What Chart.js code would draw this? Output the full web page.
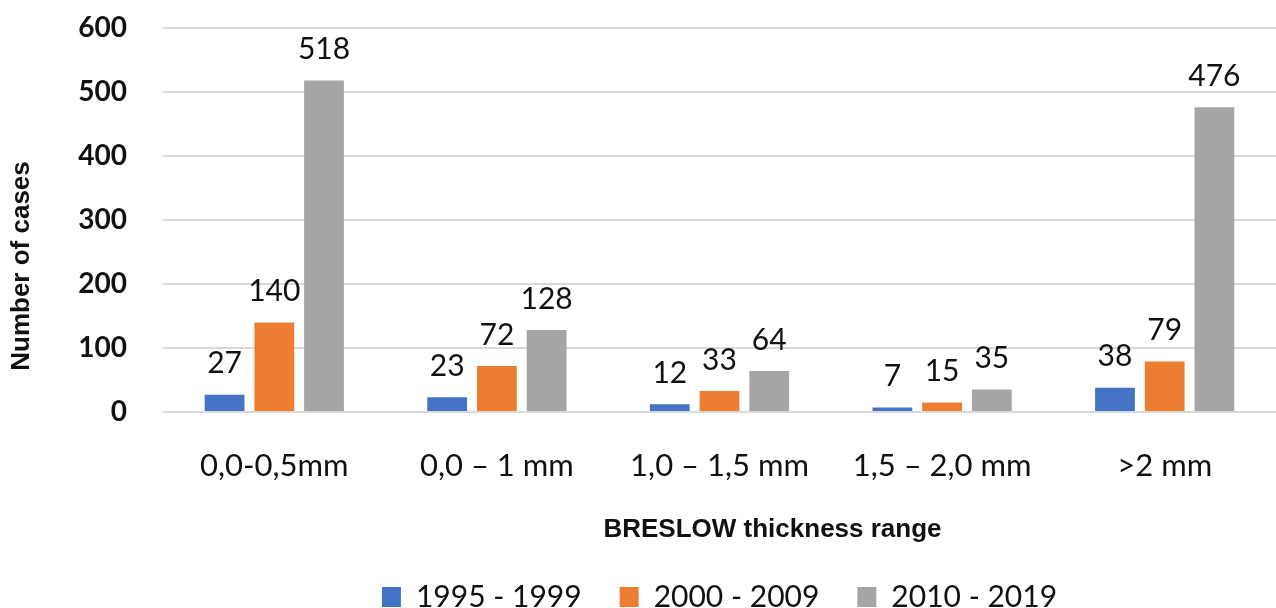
<!DOCTYPE html>
<html>
<head>
<meta charset="utf-8">
<script src="https://cdn.jsdelivr.net/npm/chart.js@4.4.0/dist/chart.umd.min.js"></script>
<style>
  html, body { margin: 0; padding: 0; background: #fff; }
  #wrap { width: 1276px; height: 608px; position: relative; }
</style>
</head>
<body>
<div id="wrap"><canvas id="myChartBar"></canvas></div>
<script>
const categories = ['0,0-0,5mm', '0,0 – 1 mm', '1,0 – 1,5 mm', '1,5 – 2,0 mm', '>2 mm'];
const seriesNames = ['1995 - 1999', '2000 - 2009', '2010 - 2019'];
const cases1995 = [27, 23, 12, 7, 38];
const cases2000 = [140, 72, 33, 15, 79];
const cases2010 = [518, 128, 64, 35, 476];
const yTicks = [0, 100, 200, 300, 400, 500, 600];
const xTitle = 'BRESLOW thickness range';
const yTitle = 'Number of cases';

// values above bars
const barLabels = {
  id: 'barLabels',
  afterDatasetsDraw(chart) {
    const c = chart.ctx;
    c.save();
    c.font = '30px Lato';
    c.fillStyle = '#111';
    c.textAlign = 'center';
    c.textBaseline = 'middle';
    chart.data.datasets.forEach((ds, i) => {
      chart.getDatasetMeta(i).data.forEach((bar, j) => {
        c.fillText(ds.data[j], bar.x, bar.y - 31);
      });
    });
    c.restore();
  }
};

// axis titles, placed off-centre like the original
const axisTitles = {
  id: 'axisTitles',
  afterDraw(chart) {
    const a = chart.chartArea;
    const c = chart.ctx;
    c.save();
    c.font = 'bold 26px "Liberation Sans"';
    c.fillStyle = '#111';
    c.textAlign = 'center';
    c.textBaseline = 'middle';
    c.fillText(xTitle, (a.left + a.right) / 2 + 53, 530);
    c.translate(22, (a.top + a.bottom) / 2 + 46);
    c.rotate(-Math.PI / 2);
    c.fillText(yTitle, 0, 0);
    c.restore();
  }
};

const ctx = document.getElementById('myChartBar').getContext('2d');
const myChart = new Chart(ctx, {
    type: 'bar',
    data: {
        labels: categories,
        datasets: [{
            label: seriesNames[0],
            data: cases1995,
            backgroundColor: '#4472C4'
        }, {
            label: seriesNames[1],
            data: cases2000,
            backgroundColor: '#ED7D31'
        }, {
            label: seriesNames[2],
            data: cases2010,
            backgroundColor: '#A5A5A5'
        }]
    },
    plugins: [barLabels, axisTitles],
    options: {
        responsive: true,
        maintainAspectRatio: false,
        animation: false,
        datasets: {
            bar: { categoryPercentage: 0.67, barPercentage: 0.8 }
        },
        layout: { padding: { top: 28, left: 0, right: 0, bottom: -14 } },
        scales: {
            x: {
                grid: { display: false },
                border: { display: false },
                ticks: { color: '#111', font: { family: 'Lato', size: 31 }, padding: 27 },
                afterFit(scale) { scale.height = 132; }
            },
            y: {
                min: yTicks[0],
                max: yTicks[yTicks.length - 1],
                ticks: { stepSize: yTicks[1] - yTicks[0], color: '#111', font: { family: 'Lato', size: 28, weight: 'bold' }, padding: 0 },
                grid: { color: '#d9d9d9', lineWidth: 2, drawTicks: true, tickLength: 36, tickColor: 'rgba(0,0,0,0)' },
                border: { display: false },
                afterFit(scale) { scale.width = 163; }
            }
        },
        plugins: {
            legend: {
                position: 'bottom',
                fullSize: false,
                labels: { boxWidth: 19, boxHeight: 20, padding: 38, color: '#111', font: { family: 'Lato', size: 30 } }
            },
            tooltip: { enabled: false }
        }
    }
});
</script>
</body>
</html>
